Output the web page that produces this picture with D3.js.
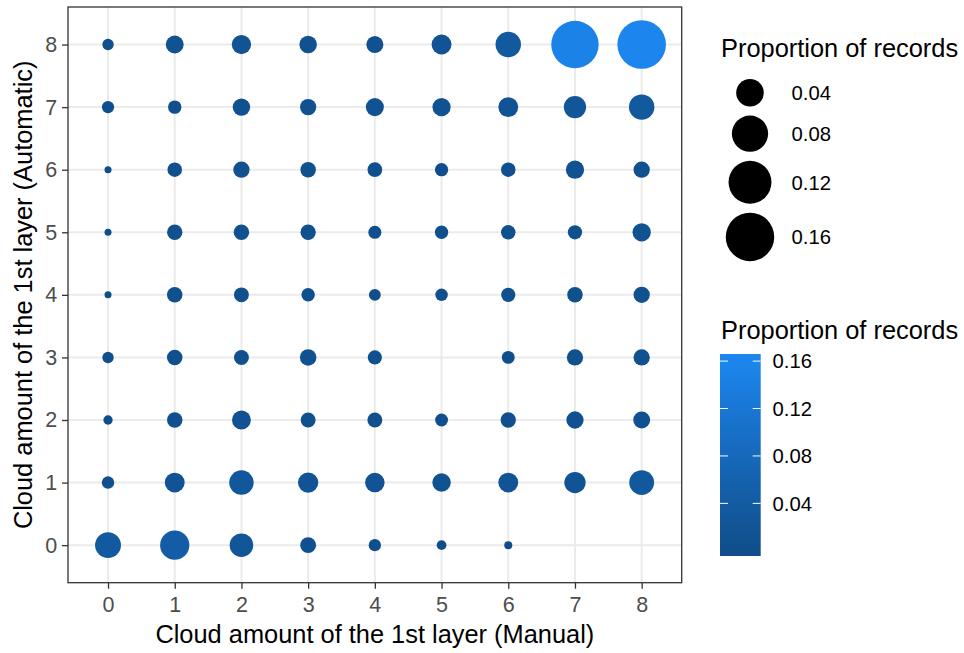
<!doctype html>
<html>
<head>
<meta charset="utf-8">
<title>Cloud amount of the 1st layer: manual vs automatic</title>
<script src="https://d3js.org/d3.v7.min.js"></script>
<style>
    body { margin: 0; background: #fff; }
    text { font-family: 'Liberation Sans', Arial, sans-serif; }
    .tick text { font-size: 21.5px; fill: #4D4D4D; }
    .tick line { stroke: #333333; stroke-width: 1.3; }
    .domain { display: none; }
    .title { font-size: 25.4px; fill: #000; }
    .legend_text { font-size: 20.3px; fill: #000; }
</style>
</head>
<body>
<svg id="chart" width="964" height="653"></svg>
<script>
// manual cloud amount (x) and automatic cloud amount (y), in oktas
const manual = [0, 1, 2, 3, 4, 5, 6, 7, 8];
const automatic = [8, 7, 6, 5, 4, 3, 2, 1, 0];
// proportion of records, one row per automatic value (8 down to 0), columns manual 0..8
const proportion = [
    [0.0024, 0.0116, 0.0146, 0.0108, 0.0100, 0.0160, 0.0322, 0.1520, 0.1610],
    [0.0032, 0.0045, 0.0108, 0.0086, 0.0120, 0.0124, 0.0160, 0.0223, 0.0322],
    [0.0006, 0.0058, 0.0086, 0.0073, 0.0061, 0.0043, 0.0058, 0.0124, 0.0086],
    [0.0006, 0.0070, 0.0073, 0.0070, 0.0040, 0.0043, 0.0058, 0.0055, 0.0124],
    [0.0006, 0.0073, 0.0064, 0.0045, 0.0028, 0.0034, 0.0055, 0.0073, 0.0086],
    [0.0024, 0.0073, 0.0064, 0.0090, 0.0053, null,   0.0038, 0.0086, 0.0086],
    [0.0011, 0.0073, 0.0137, 0.0064, 0.0064, 0.0038, 0.0070, 0.0104, 0.0097],
    [0.0034, 0.0160, 0.0289, 0.0170, 0.0151, 0.0128, 0.0160, 0.0195, 0.0302],
    [0.0336, 0.0465, 0.0258, 0.0079, 0.0032, 0.0013, 0.0007, null,   null]
];
const axisTicks = [0, 1, 2, 3, 4, 5, 6, 7, 8];
const sizeBreaks = [0.04, 0.08, 0.12, 0.16];
const colourBreaks = [0.04, 0.08, 0.12, 0.16];
const legendTitle = "Proportion of records";

const points = [];
automatic.forEach((a, i) => manual.forEach((m, j) => {
    if (proportion[i][j] != null) points.push({ manual: m, automatic: a, value: proportion[i][j] });
}));

const svg = d3.select("#chart");
const panel = { left: 68, right: 681.7, top: 7, bottom: 582.7 };

const x = d3.scaleLinear().domain([-0.6, 8.6]).range([panel.left, panel.right]);
const y = d3.scaleLinear().domain([-0.6, 8.6]).range([panel.bottom, panel.top]);

const vmin = d3.min(points, d => d.value);
const vmax = d3.max(points, d => d.value);

// ggplot-like area scale: radius grows with sqrt of the rescaled value
const radiusRange = d3.scaleLinear().domain([0, 1]).range([3.5, 24.3]);
const radius = v => radiusRange(Math.sqrt((v - vmin) / (vmax - vmin)));

const colour = d3.scaleLinear()
    .domain([vmin, vmax])
    .range(["#104E8B", "#1C86EE"])
    .interpolate(d3.interpolateLab)
    .clamp(true);

// grid
svg.append("g").selectAll("line.vgrid")
    .data(axisTicks).enter().append("line")
    .attr("x1", d => x(d)).attr("x2", d => x(d))
    .attr("y1", panel.top).attr("y2", panel.bottom)
    .attr("stroke", "#EBEBEB").attr("stroke-width", 2);
svg.append("g").selectAll("line.hgrid")
    .data(axisTicks).enter().append("line")
    .attr("y1", d => y(d)).attr("y2", d => y(d))
    .attr("x1", panel.left).attr("x2", panel.right)
    .attr("stroke", "#EBEBEB").attr("stroke-width", 2);

// points
svg.append("g").selectAll("circle")
    .data(points).enter().append("circle")
    .attr("cx", d => x(d.manual))
    .attr("cy", d => y(d.automatic))
    .attr("r", d => radius(d.value))
    .attr("fill", d => colour(d.value));

// panel border
svg.append("rect")
    .attr("x", panel.left).attr("y", panel.top)
    .attr("width", panel.right - panel.left).attr("height", panel.bottom - panel.top)
    .attr("fill", "none").attr("stroke", "#333333").attr("stroke-width", 1.3);

// axes
svg.append("g")
    .attr("transform", "translate(0," + panel.bottom + ")")
    .call(d3.axisBottom(x).tickValues(axisTicks).tickSize(6).tickPadding(8.5));
svg.append("g")
    .attr("transform", "translate(" + panel.left + ",0)")
    .call(d3.axisLeft(y).tickValues(axisTicks).tickSize(6).tickPadding(4.7));

svg.append("text")
    .attr("class", "title")
    .attr("x", (panel.left + panel.right) / 2)
    .attr("y", 643)
    .attr("text-anchor", "middle")
    .text("Cloud amount of the 1st layer (Manual)");

svg.append("text")
    .attr("class", "title")
    .attr("transform", "translate(31.5," + (panel.top + panel.bottom) / 2 + ")rotate(-90)")
    .attr("text-anchor", "middle")
    .text("Cloud amount of the 1st layer (Automatic)");

// size legend
const legendX = 721;
const sizeLegend = svg.append("g");
sizeLegend.append("text").attr("class", "title")
    .attr("x", legendX).attr("y", 57).text(legendTitle);

let keyTop = 74.4;
sizeBreaks.forEach(b => {
    const r = radius(b);
    const h = 2 * r + 9;
    const cy = keyTop + h / 2;
    sizeLegend.append("circle")
        .attr("cx", 750).attr("cy", cy).attr("r", r).attr("fill", "#000");
    sizeLegend.append("text").attr("class", "legend_text")
        .attr("x", 791.5).attr("y", cy).attr("dy", "0.36em")
        .text(d3.format(".2f")(b));
    keyTop += h;
});

// colour bar legend
const bar = { left: 720, right: 760.7, top: 354, bottom: 556 };
const expand = 0.005;
const barScale = d3.scaleLinear()
    .domain([vmin - expand, vmax + expand])
    .range([bar.bottom, bar.top]);

svg.append("text").attr("class", "title")
    .attr("x", legendX).attr("y", 339.3).text(legendTitle);

const grad = svg.append("defs").append("linearGradient")
    .attr("id", "barGradient")
    .attr("x1", 0).attr("x2", 0).attr("y1", 1).attr("y2", 0);
d3.range(0, 1.0001, 0.05).forEach(t => {
    const v = barScale.invert(bar.bottom - t * (bar.bottom - bar.top));
    grad.append("stop").attr("offset", t).attr("stop-color", colour(v));
});

svg.append("rect")
    .attr("x", bar.left).attr("y", bar.top)
    .attr("width", bar.right - bar.left).attr("height", bar.bottom - bar.top)
    .attr("fill", "url(#barGradient)");

const barTicks = svg.append("g").selectAll("g")
    .data(colourBreaks).enter().append("g");
barTicks.append("line")
    .attr("x1", bar.left).attr("x2", bar.left + 8)
    .attr("y1", d => barScale(d)).attr("y2", d => barScale(d))
    .attr("stroke", "#fff").attr("stroke-width", 1);
barTicks.append("line")
    .attr("x1", bar.right - 8).attr("x2", bar.right)
    .attr("y1", d => barScale(d)).attr("y2", d => barScale(d))
    .attr("stroke", "#fff").attr("stroke-width", 1);
barTicks.append("text").attr("class", "legend_text")
    .attr("x", 772.5).attr("y", d => barScale(d)).attr("dy", "0.36em")
    .text(d => d3.format(".2f")(d));
</script>
</body>
</html>
